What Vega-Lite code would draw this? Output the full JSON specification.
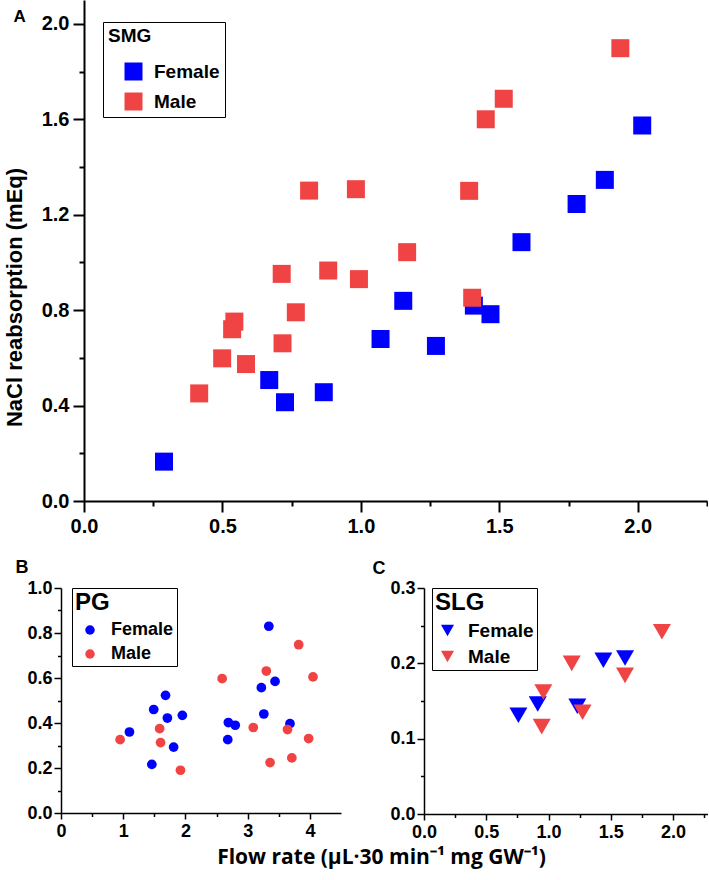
{
  "$schema": "https://vega.github.io/schema/vega-lite/v6.json",
  "padding": {"left": 3, "top": 0, "right": 0, "bottom": 12},
  "config": {
    "view": {"stroke": null},
    "axis": {"grid": false, "labelFlush": false, "domainColor": "black", "tickColor": "black", "labelColor": "black", "titleColor": "black", "labelFont": "Liberation Sans", "titleFont": "Liberation Sans", "labelFontWeight": "bold", "titleFontWeight": "bold"},
    "legend": {"strokeColor": "black", "fillColor": "white", "titleColor": "black", "labelColor": "black", "titleFont": "Liberation Sans", "labelFont": "Liberation Sans", "titleFontWeight": "bold", "labelFontWeight": "bold", "symbolStrokeWidth": 0, "symbolOpacity": 1}
  },
  "datasets": {
    "smg": [
      {"sex": "Female", "flow": 0.289, "nacl": 0.165},
      {"sex": "Female", "flow": 0.669, "nacl": 0.507},
      {"sex": "Female", "flow": 0.726, "nacl": 0.414},
      {"sex": "Female", "flow": 0.866, "nacl": 0.456},
      {"sex": "Female", "flow": 1.071, "nacl": 0.679},
      {"sex": "Female", "flow": 1.153, "nacl": 0.839},
      {"sex": "Female", "flow": 1.271, "nacl": 0.65},
      {"sex": "Female", "flow": 1.408, "nacl": 0.819},
      {"sex": "Female", "flow": 1.468, "nacl": 0.783},
      {"sex": "Female", "flow": 1.58, "nacl": 1.085},
      {"sex": "Female", "flow": 1.779, "nacl": 1.245},
      {"sex": "Female", "flow": 1.881, "nacl": 1.346},
      {"sex": "Female", "flow": 2.016, "nacl": 1.574},
      {"sex": "Male", "flow": 0.416, "nacl": 0.451},
      {"sex": "Male", "flow": 0.499, "nacl": 0.598},
      {"sex": "Male", "flow": 0.543, "nacl": 0.752},
      {"sex": "Male", "flow": 0.535, "nacl": 0.72},
      {"sex": "Male", "flow": 0.585, "nacl": 0.574},
      {"sex": "Male", "flow": 0.717, "nacl": 0.661},
      {"sex": "Male", "flow": 0.765, "nacl": 0.791},
      {"sex": "Male", "flow": 0.714, "nacl": 0.952},
      {"sex": "Male", "flow": 0.813, "nacl": 1.301},
      {"sex": "Male", "flow": 0.882, "nacl": 0.966},
      {"sex": "Male", "flow": 0.982, "nacl": 1.307},
      {"sex": "Male", "flow": 0.993, "nacl": 0.93},
      {"sex": "Male", "flow": 1.167, "nacl": 1.043},
      {"sex": "Male", "flow": 1.391, "nacl": 1.3},
      {"sex": "Male", "flow": 1.402, "nacl": 0.852},
      {"sex": "Male", "flow": 1.451, "nacl": 1.6},
      {"sex": "Male", "flow": 1.516, "nacl": 1.686},
      {"sex": "Male", "flow": 1.937, "nacl": 1.898}
    ],
    "pg": [
      {"sex": "Female", "flow": 1.1, "nacl": 0.36},
      {"sex": "Female", "flow": 1.46, "nacl": 0.216},
      {"sex": "Female", "flow": 1.49, "nacl": 0.46},
      {"sex": "Female", "flow": 1.68, "nacl": 0.523},
      {"sex": "Female", "flow": 1.71, "nacl": 0.422},
      {"sex": "Female", "flow": 1.81, "nacl": 0.293},
      {"sex": "Female", "flow": 1.95, "nacl": 0.434},
      {"sex": "Female", "flow": 2.68, "nacl": 0.326},
      {"sex": "Female", "flow": 2.69, "nacl": 0.402},
      {"sex": "Female", "flow": 2.8, "nacl": 0.39},
      {"sex": "Female", "flow": 3.22, "nacl": 0.557},
      {"sex": "Female", "flow": 3.26, "nacl": 0.44},
      {"sex": "Female", "flow": 3.34, "nacl": 0.83},
      {"sex": "Female", "flow": 3.44, "nacl": 0.585},
      {"sex": "Female", "flow": 3.68, "nacl": 0.397},
      {"sex": "Male", "flow": 0.95, "nacl": 0.326},
      {"sex": "Male", "flow": 1.585, "nacl": 0.375},
      {"sex": "Male", "flow": 1.6, "nacl": 0.313},
      {"sex": "Male", "flow": 1.92, "nacl": 0.19},
      {"sex": "Male", "flow": 2.59, "nacl": 0.597},
      {"sex": "Male", "flow": 3.09, "nacl": 0.38},
      {"sex": "Male", "flow": 3.3, "nacl": 0.631},
      {"sex": "Male", "flow": 3.36, "nacl": 0.224},
      {"sex": "Male", "flow": 3.64, "nacl": 0.371},
      {"sex": "Male", "flow": 3.71, "nacl": 0.245},
      {"sex": "Male", "flow": 3.82, "nacl": 0.748},
      {"sex": "Male", "flow": 3.98, "nacl": 0.331},
      {"sex": "Male", "flow": 4.05, "nacl": 0.605}
    ],
    "slg": [
      {"sex": "Female", "flow": 0.758, "nacl": 0.131},
      {"sex": "Female", "flow": 0.913, "nacl": 0.146},
      {"sex": "Female", "flow": 1.231, "nacl": 0.143},
      {"sex": "Female", "flow": 1.44, "nacl": 0.204},
      {"sex": "Female", "flow": 1.614, "nacl": 0.207},
      {"sex": "Male", "flow": 0.945, "nacl": 0.116},
      {"sex": "Male", "flow": 0.958, "nacl": 0.162},
      {"sex": "Male", "flow": 1.186, "nacl": 0.2},
      {"sex": "Male", "flow": 1.273, "nacl": 0.135},
      {"sex": "Male", "flow": 1.614, "nacl": 0.184},
      {"sex": "Male", "flow": 1.91, "nacl": 0.242}
    ]
  },
  "spacing": 22,
  "resolve": {"scale": {"color": "independent"}, "legend": {"color": "independent"}},
  "vconcat": [
    {
      "width": 646,
      "height": 501,
      "data": {"name": "smg"},
      "resolve": {"axis": {"x": "independent", "y": "independent"}},
      "layer": [
        {
          "transform": [{"filter": "datum.sex === 'Female'"}],
          "mark": {"type": "square", "size": 324, "filled": true, "opacity": 1},
          "encoding": {
            "x": {"field": "flow", "type": "quantitative", "scale": {"domain": [0, 2.25], "range": [23, 646], "nice": false, "zero": false},
              "axis": {"orient": "bottom", "values": [0, 0.5, 1, 1.5, 2], "format": ".1f", "title": null, "tickSize": 11, "tickWidth": 2, "domainWidth": 2, "labelFontSize": 20, "labelPadding": 4}},
            "y": {"field": "nacl", "type": "quantitative", "scale": {"domain": [0, 2.1], "nice": false, "zero": false},
              "axis": {"orient": "left", "offset": -23, "values": [0, 0.4, 0.8, 1.2, 1.6, 2.0], "format": ".1f", "tickSize": 11, "tickWidth": 2, "domainWidth": 2, "labelFontSize": 20, "labelPadding": 4,
                "title": "NaCl reabsorption (mEq)", "titleFontSize": 22, "titleX": -70, "titleY": 297, "titleBaseline": "middle", "titleAngle": -90, "titleAlign": "center"}},
            "color": {"field": "sex", "type": "nominal", "scale": {"domain": ["Female", "Male"], "range": ["#0000FF", "#F04444"]},
              "legend": {"title": "SMG", "orient": "none", "legendX": 42, "legendY": 22, "padding": 5, "titleFontSize": 19, "titlePadding": 16, "labelFontSize": 19, "symbolType": "square", "symbolSize": 324, "symbolOffset": 16, "labelOffset": 11, "rowPadding": 10, "labelExpr": "datum.label + '\u00a0\u00a0\u00a0\u00a0\u00a0'"}}
          }
        },
        {
          "transform": [{"filter": "datum.sex === 'Male'"}],
          "mark": {"type": "square", "size": 324, "filled": true, "opacity": 1},
          "encoding": {
            "x": {"field": "flow", "type": "quantitative",
              "axis": {"orient": "bottom", "values": [0.25, 0.75, 1.25, 1.75, 2.25], "labels": false, "domain": false, "title": null, "tickSize": 5, "tickWidth": 2}},
            "y": {"field": "nacl", "type": "quantitative",
              "axis": {"orient": "left", "offset": -23, "values": [0.2, 0.6, 1.0, 1.4, 1.8], "labels": false, "domain": false, "tickSize": 5, "tickWidth": 2,
                "title": "A", "titleFontSize": 17, "titleAngle": 0, "titleX": -71, "titleY": 21, "titleAlign": "left", "titleBaseline": "alphabetic"}},
            "color": {"field": "sex", "type": "nominal", "scale": {"domain": ["Female", "Male"], "range": ["#0000FF", "#F04444"]},
              "legend": {"title": "SMG", "orient": "none", "legendX": 42, "legendY": 22, "padding": 5, "titleFontSize": 19, "titlePadding": 16, "labelFontSize": 19, "symbolType": "square", "symbolSize": 324, "symbolOffset": 16, "labelOffset": 11, "rowPadding": 10, "labelExpr": "datum.label + '\u00a0\u00a0\u00a0\u00a0\u00a0'"}}
          }
        }
      ]
    },
    {
      "bounds": "flush",
      "spacing": 83,
      "resolve": {"scale": {"color": "independent"}, "legend": {"color": "independent"}},
      "hconcat": [
        {
          "width": 280,
          "height": 225,
          "data": {"name": "pg"},
          "resolve": {"axis": {"x": "independent", "y": "independent"}},
          "layer": [
            {
              "transform": [{"filter": "datum.sex === 'Female'"}],
              "mark": {"type": "circle", "size": 95, "opacity": 1},
              "encoding": {
                "x": {"field": "flow", "type": "quantitative", "scale": {"domain": [0, 4.5], "nice": false, "zero": false},
                  "axis": {"orient": "bottom", "values": [0, 1, 2, 3, 4], "format": "d", "tickSize": 6, "tickWidth": 1.5, "domainWidth": 1.5, "labelFontSize": 18, "labelPadding": 3,
                    "title": "Flow rate (µL·30 min⁻¹ mg GW⁻¹)", "titleFont": "Open Sans", "titleFontSize": 21, "titleX": 320, "titleY": 50, "titleAlign": "center", "titleBaseline": "alphabetic"}},
                "y": {"field": "nacl", "type": "quantitative", "scale": {"domain": [0, 1.0], "nice": false, "zero": false},
                  "axis": {"orient": "left", "values": [0, 0.2, 0.4, 0.6, 0.8, 1.0], "format": ".1f", "tickSize": 7, "tickWidth": 1.5, "domainWidth": 1.5, "labelFontSize": 18, "labelPadding": 2,
                    "title": "B", "titleFontSize": 18, "titleAngle": 0, "titleX": -46, "titleY": -16, "titleAlign": "left", "titleBaseline": "alphabetic"}},
                "color": {"field": "sex", "type": "nominal", "scale": {"domain": ["Female", "Male"], "range": ["#0000FF", "#F04444"]},
                  "legend": {"title": "PG", "orient": "none", "legendX": 11, "legendY": 0, "padding": 3, "titleFontSize": 24, "titlePadding": 6, "labelFontSize": 18, "symbolType": "circle", "symbolSize": 90, "symbolOffset": 6, "labelOffset": 12, "rowPadding": 6}}
              }
            },
            {
              "transform": [{"filter": "datum.sex === 'Male'"}],
              "mark": {"type": "circle", "size": 95, "opacity": 1},
              "encoding": {
                "x": {"field": "flow", "type": "quantitative",
                  "axis": {"orient": "bottom", "values": [0.5, 1.5, 2.5, 3.5], "labels": false, "domain": false, "title": null, "tickSize": 3.5, "tickWidth": 1.5}},
                "y": {"field": "nacl", "type": "quantitative",
                  "axis": {"orient": "left", "values": [0.1, 0.3, 0.5, 0.7, 0.9], "labels": false, "domain": false, "title": null, "tickSize": 3.5, "tickWidth": 1.5}},
                "color": {"field": "sex", "type": "nominal", "scale": {"domain": ["Female", "Male"], "range": ["#0000FF", "#F04444"]},
                  "legend": {"title": "PG", "orient": "none", "legendX": 11, "legendY": 0, "padding": 3, "titleFontSize": 24, "titlePadding": 6, "labelFontSize": 18, "symbolType": "circle", "symbolSize": 90, "symbolOffset": 6, "labelOffset": 12, "rowPadding": 6}}
              }
            }
          ]
        },
        {
          "width": 284,
          "height": 226,
          "data": {"name": "slg"},
          "resolve": {"axis": {"x": "independent", "y": "independent"}},
          "layer": [
            {
              "transform": [{"filter": "datum.sex === 'Female'"}],
              "mark": {"type": "point", "shape": "triangle-down", "size": 324, "filled": true, "opacity": 1},
              "encoding": {
                "x": {"field": "flow", "type": "quantitative", "scale": {"domain": [0, 2.28], "nice": false, "zero": false},
                  "axis": {"orient": "bottom", "values": [0, 0.5, 1, 1.5, 2], "format": ".1f", "title": null, "tickSize": 6, "tickWidth": 1.5, "domainWidth": 1.5, "labelFontSize": 18, "labelPadding": 3}},
                "y": {"field": "nacl", "type": "quantitative", "scale": {"domain": [0, 0.3], "nice": false, "zero": false},
                  "axis": {"orient": "left", "values": [0, 0.1, 0.2, 0.3], "format": ".1f", "tickSize": 7, "tickWidth": 1.5, "domainWidth": 1.5, "labelFontSize": 18, "labelPadding": 2,
                    "title": "C", "titleFontSize": 18, "titleAngle": 0, "titleX": -52, "titleY": -15, "titleAlign": "left", "titleBaseline": "alphabetic"}},
                "color": {"field": "sex", "type": "nominal", "scale": {"domain": ["Female", "Male"], "range": ["#0000FF", "#F04444"]},
                  "legend": {"title": "SLG", "orient": "none", "legendX": 8, "legendY": 0, "padding": 3, "titleFontSize": 24, "titlePadding": 6, "labelFontSize": 19, "symbolType": "triangle-down", "symbolSize": 169, "symbolOffset": 3, "labelOffset": 11, "rowPadding": 6}}
              }
            },
            {
              "transform": [{"filter": "datum.sex === 'Male'"}],
              "mark": {"type": "point", "shape": "triangle-down", "size": 324, "filled": true, "opacity": 1},
              "encoding": {
                "x": {"field": "flow", "type": "quantitative",
                  "axis": {"orient": "bottom", "values": [0.25, 0.75, 1.25, 1.75, 2.25], "labels": false, "domain": false, "title": null, "tickSize": 3.5, "tickWidth": 1.5}},
                "y": {"field": "nacl", "type": "quantitative",
                  "axis": {"orient": "left", "values": [0.05, 0.15, 0.25], "labels": false, "domain": false, "title": null, "tickSize": 3.5, "tickWidth": 1.5}},
                "color": {"field": "sex", "type": "nominal", "scale": {"domain": ["Female", "Male"], "range": ["#0000FF", "#F04444"]},
                  "legend": {"title": "SLG", "orient": "none", "legendX": 8, "legendY": 0, "padding": 3, "titleFontSize": 24, "titlePadding": 6, "labelFontSize": 19, "symbolType": "triangle-down", "symbolSize": 169, "symbolOffset": 3, "labelOffset": 11, "rowPadding": 6}}
              }
            }
          ]
        }
      ]
    }
  ]
}
